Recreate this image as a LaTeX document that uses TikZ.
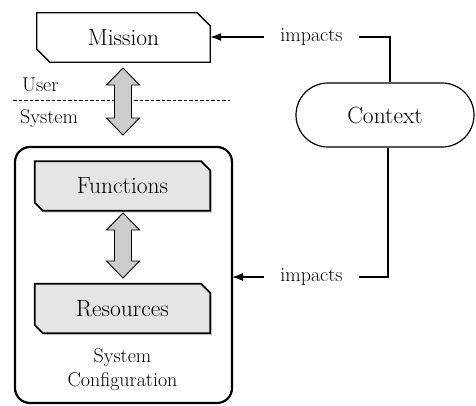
\documentclass[tikz,border=0pt]{standalone}
\usepackage{fontspec}
\usetikzlibrary{arrows.meta,shadows,backgrounds}
\begin{document}
\begin{tikzpicture}[x=1pt,y=-1pt,
  big/.style={font=\rmfamily\fontsize{23.5pt}{27pt}\selectfont, inner sep=0pt},
  small/.style={font=\rmfamily\fontsize{20pt}{24pt}\selectfont},
  boxlbl/.style={big, minimum width=#1, minimum height=49pt},
  chamfwhite/.style={draw=black, line width=1.3pt, fill=white, line join=miter},
  chamfgray/.style={draw=black, line width=1.7pt, fill=gray!20, line join=miter,
     drop shadow={shadow xshift=2pt, shadow yshift=-2pt, opacity=0.35}},
  dblarrow/.style={draw=black, line width=0.9pt, fill=gray!40, line join=miter},
  conn/.style={line width=1.2pt},
  tip/.style={-{Latex[length=11pt,width=8pt]}},
  impactlbl/.style={small, inner xsep=16pt, inner ysep=0pt}
]
\useasboundingbox (0,0) rectangle (476,405);

% nodes (text)
\node[boxlbl=173pt] (mission) at (123.5,37.5) {Mission};
\node[boxlbl=175pt] (func) at (122.5,186) {Functions};
\node[boxlbl=175pt] (res) at (122.5,308.5) {Resources};
\node[small, align=center, inner sep=0pt] (sclbl) at (122.5,370) {System\\Configuration};
\node[draw, line width=1.2pt, rounded corners=32pt, minimum width=178pt,
      minimum height=64pt, big] (context) at (385,115) {Context};
\node[small, anchor=base west, inner sep=0pt] (user) at (22,91) {User};
\node[small, anchor=base west, inner sep=0pt] (system) at (20,123) {System};
\node[impactlbl] (imp1) at (311.5,37) {impacts};
\node[impactlbl] (imp2) at (311.5,277) {impacts};

\begin{scope}[on background layer]
  % system configuration box
  \draw[line width=2.2pt, rounded corners=15pt] (15,147) rectangle (232,403);
  \coordinate (syseast) at (232,277);
  % mission
  \filldraw[chamfwhite] (mission.north west) -- ([xshift=-13pt]mission.north east)
     -- ([yshift=-13pt]mission.north east) -- (mission.south east)
     -- ([xshift=13pt]mission.south west) -- ([yshift=13pt]mission.south west) -- cycle;
  % functions
  \filldraw[chamfgray] (func.north west) -- ([xshift=-9pt]func.north east)
     -- ([yshift=-9pt]func.north east) -- (func.south east)
     -- ([xshift=8pt]func.south west) -- ([yshift=8pt]func.south west) -- cycle;
  % resources
  \filldraw[chamfgray] (res.north west) -- ([xshift=-9pt]res.north east)
     -- ([yshift=-9pt]res.north east) -- (res.south east)
     -- ([xshift=8pt]res.south west) -- ([yshift=8pt]res.south west) -- cycle;
\end{scope}

% dashed separator
\coordinate (dashL) at (13,100);
\coordinate (dashR) at (230,100);
\draw[line width=0.8pt, dash pattern=on 3.5pt off 2pt] (dashL) -- (dashR);

% double arrows
\filldraw[dblarrow] (123,68) -- (139.5,85) -- (131.5,85) -- (131.5,118) -- (139.5,118)
  -- (123,135) -- (106.5,118) -- (114.5,118) -- (114.5,85) -- (106.5,85) -- cycle;
\filldraw[dblarrow] (123,213) -- (139.5,230) -- (131.5,230) -- (131.5,261) -- (139.5,261)
  -- (123,278) -- (106.5,261) -- (114.5,261) -- (114.5,230) -- (106.5,230) -- cycle;

% connectors
\draw[conn] ([xshift=5pt]context.north) |- (imp1.east);
\draw[conn,tip] (imp1.west) -- (imp1.west -| mission.east);
\draw[conn] ([xshift=3pt]context.south) |- (imp2.east);
\draw[conn,tip] (imp2.west) -- (syseast);
\end{tikzpicture}
\end{document}
